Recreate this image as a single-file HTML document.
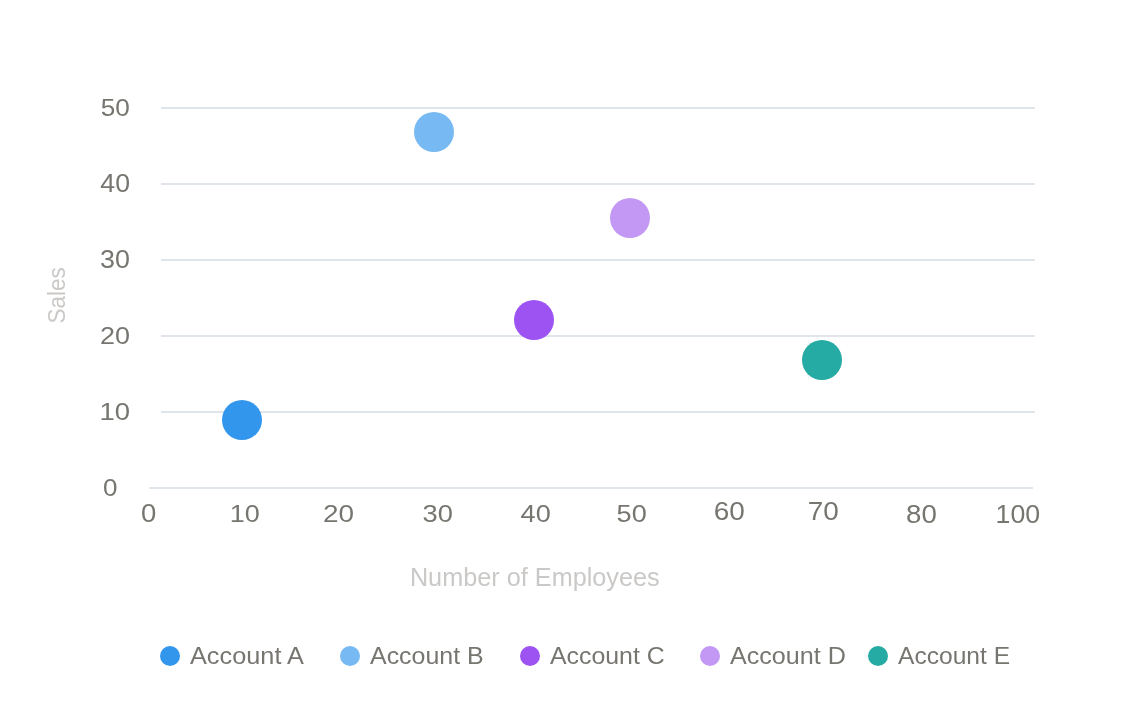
<!DOCTYPE html>
<html><head><meta charset="utf-8">
<style>
html,body{margin:0;padding:0;background:#fff;width:1138px;height:708px;overflow:hidden}
svg{position:absolute;left:0;top:0;will-change:transform}
text{font-family:"Liberation Sans",sans-serif}
.th{}
</style></head><body>
<svg width="1138" height="708" viewBox="0 0 1138 708">
<rect x="161" y="107" width="874" height="2" fill="#dfe5eb"/>
<rect x="161" y="183" width="874" height="2" fill="#dfe5eb"/>
<rect x="161" y="259" width="874" height="2" fill="#dfe5eb"/>
<rect x="161" y="335" width="874" height="2" fill="#dfe5eb"/>
<rect x="161" y="411" width="874" height="2" fill="#dfe5eb"/>
<rect x="149" y="487" width="884" height="2" fill="#dfe5eb"/>
<text class="th" transform="matrix(1.0485,0,0,0.9915,100.75,116.15)" fill="#77756f" font-size="25">50</text>
<text class="th" transform="matrix(1.0667,0,0,1.0141,100.37,192.35)" fill="#77756f" font-size="25">40</text>
<text class="th" transform="matrix(1.0757,0,0,1.0310,100.12,268.44)" fill="#77756f" font-size="25">30</text>
<text class="th" transform="matrix(1.0784,0,0,0.9859,99.95,344.35)" fill="#77756f" font-size="25">20</text>
<text class="th" transform="matrix(1.1000,0,0,0.9634,99.38,420.06)" fill="#77756f" font-size="25">10</text>
<text class="th" transform="matrix(1.0417,0,0,0.9746,103.06,495.56)" fill="#77756f" font-size="25">0</text>
<text class="th" transform="matrix(1.1000,0,0,0.9972,141.00,522.05)" fill="#77756f" font-size="25">0</text>
<text class="th" transform="matrix(1.0800,0,0,0.9859,229.71,522.05)" fill="#77756f" font-size="25">10</text>
<text class="th" transform="matrix(1.1176,0,0,0.9803,323.00,522.15)" fill="#77756f" font-size="25">20</text>
<text class="th" transform="matrix(1.0913,0,0,0.9803,422.61,522.15)" fill="#77756f" font-size="25">30</text>
<text class="th" transform="matrix(1.0857,0,0,0.9803,520.56,522.15)" fill="#77756f" font-size="25">40</text>
<text class="th" transform="matrix(1.0835,0,0,0.9803,616.62,522.15)" fill="#77756f" font-size="25">50</text>
<text class="th" transform="matrix(1.1176,0,0,1.0197,713.80,520.25)" fill="#77756f" font-size="25">60</text>
<text class="th" transform="matrix(1.1176,0,0,1.0085,807.70,520.25)" fill="#77756f" font-size="25">70</text>
<text class="th" transform="matrix(1.1068,0,0,1.0085,906.09,522.55)" fill="#77756f" font-size="25">80</text>
<text class="th" transform="matrix(1.0692,0,0,1.0085,995.53,522.55)" fill="#77756f" font-size="25">100</text>
<text class="th" transform="matrix(1.0106,0,0,1.0029,409.88,586.00)" fill="#cbc9c7" font-size="25">Number of Employees</text>
<text class="th" transform="matrix(1.0546,0,0,1.0242,190.00,663.90)" fill="#77756f" font-size="24">Account A</text>
<text class="th" transform="matrix(1.0393,0,0,1.0242,370.00,663.90)" fill="#77756f" font-size="24">Account B</text>
<text class="th" transform="matrix(1.0369,0,0,1.0242,550.00,663.90)" fill="#77756f" font-size="24">Account C</text>
<text class="th" transform="matrix(1.0469,0,0,1.0242,730.00,663.90)" fill="#77756f" font-size="24">Account D</text>
<text class="th" transform="matrix(1.0249,0,0,1.0242,898.00,663.90)" fill="#77756f" font-size="24">Account E</text>
<text class="th" transform="translate(64.76,323.53) rotate(-90) scale(0.9008,0.9634)" fill="#cbc9c7" font-size="25">Sales</text>
<circle cx="242" cy="420" r="20" fill="#3296ed"/>
<circle cx="434" cy="132" r="20" fill="#77b9f2"/>
<circle cx="534" cy="320" r="20" fill="#9d53f2"/>
<circle cx="630" cy="218" r="20" fill="#c398f5"/>
<circle cx="822" cy="360" r="20" fill="#26aba4"/>
<circle cx="170" cy="656" r="10" fill="#3296ed"/>
<circle cx="350" cy="656" r="10" fill="#77b9f2"/>
<circle cx="530" cy="656" r="10" fill="#9d53f2"/>
<circle cx="710" cy="656" r="10" fill="#c398f5"/>
<circle cx="878" cy="656" r="10" fill="#26aba4"/>
</svg>
</body></html>
